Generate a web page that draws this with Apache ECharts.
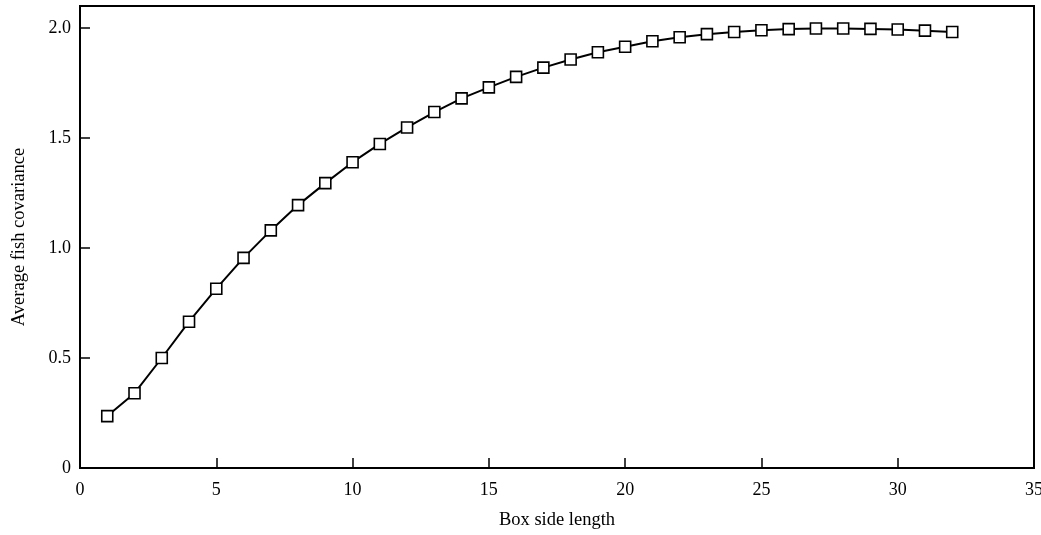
<!DOCTYPE html>
<html>
<head>
	<meta charset="utf-8">
	<title>Average fish covariance</title>
	<script src="https://cdn.jsdelivr.net/npm/echarts@6/dist/echarts.min.js"></script>
	<style>
		html, body { margin: 0; padding: 0; background: #fff; }
		#chart { width: 1041px; height: 535px; }
	</style>
</head>
<body>
	<div id="chart"></div>
	<script>
		// box side length 1..32
		var boxSide = [1, 2, 3, 4, 5, 6, 7, 8, 9, 10, 11, 12, 13, 14, 15, 16,
			17, 18, 19, 20, 21, 22, 23, 24, 25, 26, 27, 28, 29, 30, 31, 32];
		var covariance = [0.236, 0.34, 0.50, 0.665, 0.815, 0.955, 1.08, 1.195, 1.295, 1.39, 1.473, 1.548,
			1.618, 1.68, 1.73, 1.778, 1.82, 1.857, 1.89, 1.915, 1.94, 1.958, 1.972, 1.982,
			1.99, 1.995, 1.998, 1.998, 1.996, 1.993, 1.988, 1.982];
		var yTicks = [0, 0.5, 1.0, 1.5, 2.0];

		var font = '"Liberation Serif", "Times New Roman", serif';
		var chart = echarts.init(document.getElementById('chart'));
		chart.setOption({
			animation: false,
			backgroundColor: '#fff',
			grid: {
				left: 80, right: 7, top: 6, bottom: 67,
				outerBoundsMode: 'none', containLabel: false,
				show: true, borderColor: '#000', borderWidth: 2
			},
			xAxis: {
				type: 'value', min: 0, max: 35, interval: 5,
				name: 'Box side length', nameLocation: 'middle', nameGap: 43,
				nameTextStyle: { fontFamily: font, fontSize: 18.5, color: '#000' },
				axisLine: { lineStyle: { color: '#000', width: 2 } },
				axisTick: { inside: true, length: 10, lineStyle: { color: '#000', width: 1.5 } },
				axisLabel: { fontFamily: font, fontSize: 18, color: '#000', margin: 13 },
				splitLine: { show: false }
			},
			yAxis: {
				type: 'value', min: 0, max: 2.1, interval: 0.5,
				name: 'Average fish covariance', nameLocation: 'middle', nameGap: 51,
				nameTextStyle: { fontFamily: font, fontSize: 18.5, color: '#000' },
				axisLine: { lineStyle: { color: '#000', width: 2 } },
				axisTick: { inside: true, length: 10, lineStyle: { color: '#000', width: 1.5 } },
				axisLabel: {
					fontFamily: font, fontSize: 18, color: '#000', margin: 9,
					formatter: function (v) {
						if (yTicks.indexOf(v) < 0) return '';
						return v === 0 ? '0' : v.toFixed(1);
					}
				},
				splitLine: { show: false }
			},
			series: [{
				type: 'line',
				data: boxSide.map(function (x, i) { return [x, covariance[i]]; }),
				symbol: 'rect', symbolSize: 11,
				lineStyle: { color: '#000', width: 2 },
				itemStyle: { color: '#fff', borderColor: '#000', borderWidth: 1.6 }
			}]
		});
	</script>
</body>
</html>
